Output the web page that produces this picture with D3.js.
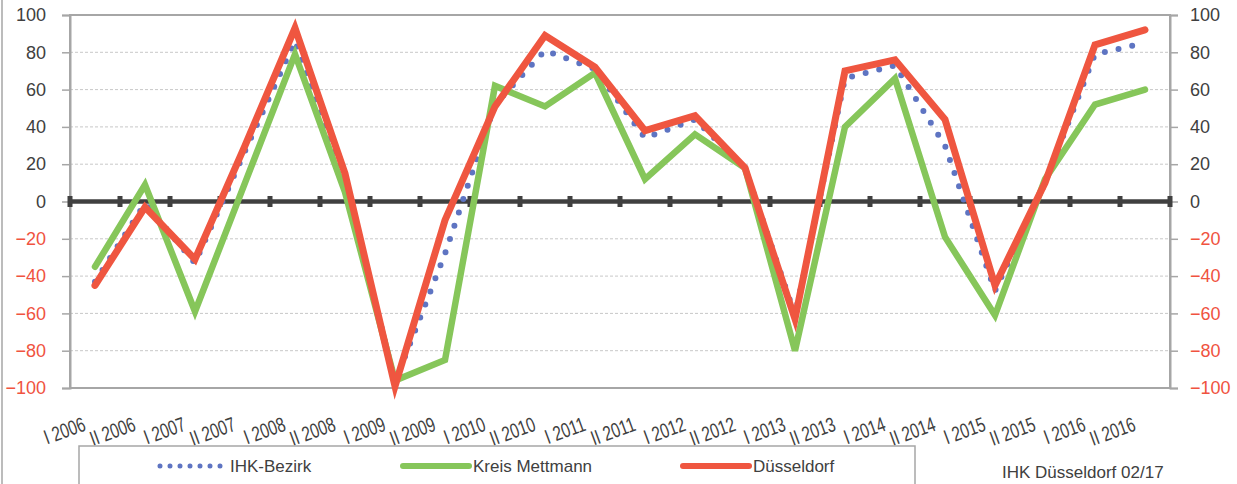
<!DOCTYPE html>
<html>
<head>
<meta charset="utf-8">
<script src="https://cdn.jsdelivr.net/npm/d3@7"></script>
<style>
  body { margin: 0; background: #fff; }
  svg { font-family: "Liberation Sans", Arial, sans-serif; }
</style>
</head>
<body>
<div id="chart"></div>
<script>
var categories = ['I 2006', 'II 2006', 'I 2007', 'II 2007', 'I 2008', 'II 2008',
  'I 2009', 'II 2009', 'I 2010', 'II 2010', 'I 2011', 'II 2011',
  'I 2012', 'II 2012', 'I 2013', 'II 2013', 'I 2014', 'II 2014',
  'I 2015', 'II 2015', 'I 2016', 'II 2016'];

var ihkBezirk = [-43, -1, -33, 27, 86, 12, -97, -28, 52, 81, 71, 34,
  44, 18, -61, 66, 73, 30, -48, 10, 79, 85];
var kreisMettmann = [-35, 9, -59, 10, 79, 5, -96, -85, 62, 51, 69, 12,
  36, 18, -80, 40, 66, -19, -61, 12, 52, 60];
var duesseldorf = [-45, -3, -31, 30, 93, 15, -99, -10, 51, 89, 72, 38,
  46, 18, -63, 70, 76, 44, -45, 10, 84, 92];

var yTicks = [-100, -80, -60, -40, -20, 0, 20, 40, 60, 80, 100];
var legendNames = ['IHK-Bezirk', 'Kreis Mettmann', 'Düsseldorf'];
var sourceNote = 'IHK Düsseldorf 02/17';

(function () {
  var blue = '#5e74c2', green = '#86c65a', red = '#ef5640';
  var textGray = '#404040', negRed = '#f0533f';

  var width = 1237, height = 484;
  var pLeft = 70, pRight = 1170, pTop = 15, pBottom = 388;

  var svg = d3.select('#chart')
    .append('svg')
    .attr('width', width)
    .attr('height', height);

  var x = d3.scaleBand().domain(categories).range([pLeft, pRight]);
  var y = d3.scaleLinear().domain([-100, 100]).range([pBottom, pTop]);
  var cx = function (d) { return x(d) + x.bandwidth() / 2; };

  // outer chart border (left edge only visible)
  svg.append('line')
    .attr('x1', 2).attr('x2', 2).attr('y1', 0).attr('y2', height)
    .attr('stroke', '#a6a6a6').attr('stroke-width', 1.5);

  // gridlines
  svg.append('g')
    .selectAll('line')
    .data(yTicks.filter(function (d) { return d !== 0 && d !== 100 && d !== -100; }))
    .enter()
    .append('line')
    .attr('x1', pLeft).attr('x2', pRight)
    .attr('y1', function (d) { return y(d); })
    .attr('y2', function (d) { return y(d); })
    .attr('stroke', '#c8c8c8')
    .attr('stroke-width', 1)
    .attr('stroke-dasharray', '3 2');

  // frame
  svg.append('rect')
    .attr('x', pLeft).attr('y', pTop)
    .attr('width', pRight - pLeft).attr('height', pBottom - pTop)
    .attr('fill', 'none')
    .attr('stroke', '#a6a6a6')
    .attr('stroke-width', 2);

  // y axes
  var leftAxis = svg.append('g')
    .attr('transform', 'translate(' + pLeft + ',0)')
    .call(d3.axisLeft(y).tickValues(yTicks).tickSize(8).tickPadding(16));
  var rightAxis = svg.append('g')
    .attr('transform', 'translate(' + pRight + ',0)')
    .call(d3.axisRight(y).tickValues(yTicks).tickSize(8).tickPadding(12));

  [leftAxis, rightAxis].forEach(function (ax) {
    ax.select('.domain').attr('stroke', '#a6a6a6').attr('stroke-width', 2);
    ax.selectAll('.tick line').attr('stroke', '#a6a6a6').attr('stroke-width', 1.5);
    ax.selectAll('.tick text')
      .attr('font-size', 18)
      .attr('font-family', '"Liberation Sans", Arial, sans-serif')
      .attr('fill', function (d) { return d < 0 ? negRed : textGray; });
  });

  // zero line with category ticks
  svg.append('line')
    .attr('x1', pLeft).attr('x2', pRight)
    .attr('y1', y(0)).attr('y2', y(0))
    .attr('stroke', '#404040')
    .attr('stroke-width', 4.5);

  var bounds = categories.map(function (d) { return x(d); }).concat([pRight]);
  svg.append('g')
    .selectAll('rect')
    .data(bounds)
    .enter()
    .append('rect')
    .attr('x', function (d) { return d - 2.5; })
    .attr('y', y(0) - 5.5)
    .attr('width', 5)
    .attr('height', 11)
    .attr('fill', '#404040');

  // x labels (narrow, tall glyphs like the original)
  svg.append('g')
    .selectAll('text')
    .data(categories)
    .enter()
    .append('text')
    .attr('transform', function (d) {
      return 'translate(' + (cx(d) - 8) + ',430) rotate(-20) scale(0.85,1.15)';
    })
    .attr('text-anchor', 'end')
    .attr('font-size', 18)
    .attr('fill', textGray)
    .text(function (d) { return d; });

  // series
  var line = d3.line()
    .x(function (d, i) { return cx(categories[i]); })
    .y(function (d) { return y(d); });

  svg.append('path')
    .datum(ihkBezirk)
    .attr('d', line)
    .attr('fill', 'none')
    .attr('stroke', blue)
    .attr('stroke-width', 6)
    .attr('stroke-linecap', 'round')
    .attr('stroke-dasharray', '0 14');

  svg.append('path')
    .datum(kreisMettmann)
    .attr('d', line)
    .attr('fill', 'none')
    .attr('stroke', green)
    .attr('stroke-width', 6.5)
    .attr('stroke-linejoin', 'miter')
    .attr('stroke-linecap', 'round');

  svg.append('path')
    .datum(duesseldorf)
    .attr('d', line)
    .attr('fill', 'none')
    .attr('stroke', red)
    .attr('stroke-width', 7)
    .attr('stroke-linejoin', 'miter')
    .attr('stroke-linecap', 'round');

  // legend
  svg.append('rect')
    .attr('x', 79).attr('y', 446)
    .attr('width', 836).attr('height', 60)
    .attr('fill', 'none')
    .attr('stroke', '#a6a6a6')
    .attr('stroke-width', 1.5);

  var legendX = [160, 403, 683];
  var legendStyle = [
    { color: blue, dash: '0 10', w: 5 },
    { color: green, dash: null, w: 6 },
    { color: red, dash: null, w: 6 }
  ];
  var lg = svg.append('g')
    .selectAll('g')
    .data(legendNames)
    .enter()
    .append('g')
    .attr('transform', function (d, i) { return 'translate(' + legendX[i] + ',466)'; });

  lg.append('line')
    .attr('x1', 0).attr('x2', 66)
    .attr('stroke', function (d, i) { return legendStyle[i].color; })
    .attr('stroke-width', function (d, i) { return legendStyle[i].w; })
    .attr('stroke-linecap', 'round')
    .attr('stroke-dasharray', function (d, i) { return legendStyle[i].dash; });

  lg.append('text')
    .attr('x', 70).attr('y', 6)
    .attr('font-size', 17)
    .attr('fill', textGray)
    .text(function (d) { return d; });

  svg.append('text')
    .attr('x', 1002).attr('y', 478)
    .attr('font-size', 17)
    .attr('fill', textGray)
    .text(sourceNote);
})();
</script>
</body>
</html>
